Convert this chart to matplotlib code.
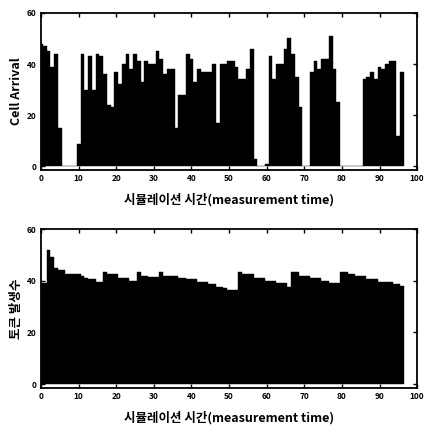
import matplotlib
matplotlib.use('Agg')
import matplotlib.pyplot as plt
import numpy as np

plt.rcParams['font.family'] = ['Noto Sans CJK KR', 'DejaVu Sans']

# time steps 0..96
t = np.arange(97)

cell_arrival = [48, 47, 45, 39, 44, 15, 0, 0, 0, 0,
                8.5, 44, 30, 43, 30, 44, 43, 36, 24, 23,
                37, 32, 40, 44, 38, 44, 41, 33, 41, 40,
                40, 45, 42, 36, 38, 38, 15, 28, 28, 44,
                42, 33, 38, 37, 37, 37, 40, 17, 40, 40,
                41, 41, 39, 34, 34, 38, 46, 3, 0, 0,
                1, 43, 34, 40, 40, 46, 50, 44, 35, 23,
                0, 0, 37, 41, 38, 42, 42, 51, 38, 25,
                0, 0, 0, 0, 0, 0, 34, 35, 37, 34,
                39, 38, 40, 41, 41, 12, 37]

tokens = [39, 39, 52, 49, 45, 44, 44, 42.5, 42.5, 42.5,
          42.5, 42, 41, 40.5, 40.5, 39.5, 39.5, 43.5, 42.5, 42.5,
          42.5, 41, 41, 41, 40, 40, 43.5, 42, 42, 41.5,
          41.5, 41.5, 43.5, 42, 42, 42, 42, 41, 41, 40.5,
          40.5, 40.5, 39.5, 39.5, 39.5, 38.6, 38.6, 37.5, 37.5, 37.3,
          36.5, 36.5, 36.5, 43.5, 42.5, 42.5, 42.5, 41, 41, 41,
          40, 40, 40, 39, 39, 39, 37.7, 43.5, 43.5, 42,
          42, 42, 41, 41, 41, 40, 40, 39.2, 39.2, 39.2,
          43.5, 43.5, 42.5, 42.5, 42, 42, 41.8, 40.5, 40.5, 40.5,
          39.5, 39.5, 39.5, 39.5, 38.6, 38.6, 38]

xticks = list(range(0, 101, 10))
yticks = [0, 20, 40, 60]
xlabel = '시뮬레이션 시간(measurement time)'

fig = plt.figure(figsize=(4.25, 4.32), dpi=100)
ax1 = fig.add_axes([0.0965, 0.6065, 0.885, 0.3635])
ax2 = fig.add_axes([0.0965, 0.1019, 0.885, 0.368])


def style(ax, ylabel):
    ax.set_xlim(0, 100)
    ax.set_ylim(-1.5, 60)
    ax.set_xticks(xticks)
    ax.set_yticks(yticks)
    ax.tick_params(direction='in', top=True, right=True, length=3,
                   labelsize=6, pad=3, width=1)
    for lab in ax.get_xticklabels() + ax.get_yticklabels():
        lab.set_fontweight('bold')
    for sp in ax.spines.values():
        sp.set_linewidth(1.3)
    ax.set_xlabel(xlabel, fontsize=9, fontweight='bold', labelpad=7)
    ax.set_ylabel(ylabel, fontsize=9, fontweight='bold', labelpad=3)


ax1.bar(t, cell_arrival, width=1.0, color='black', edgecolor='black', linewidth=0.3)
style(ax1, 'Cell Arrival')

ax2.bar(t, tokens, width=1.0, color='black', edgecolor='black', linewidth=0.3)
style(ax2, '토큰 발생수')

fig.savefig('out.png', dpi=100)
